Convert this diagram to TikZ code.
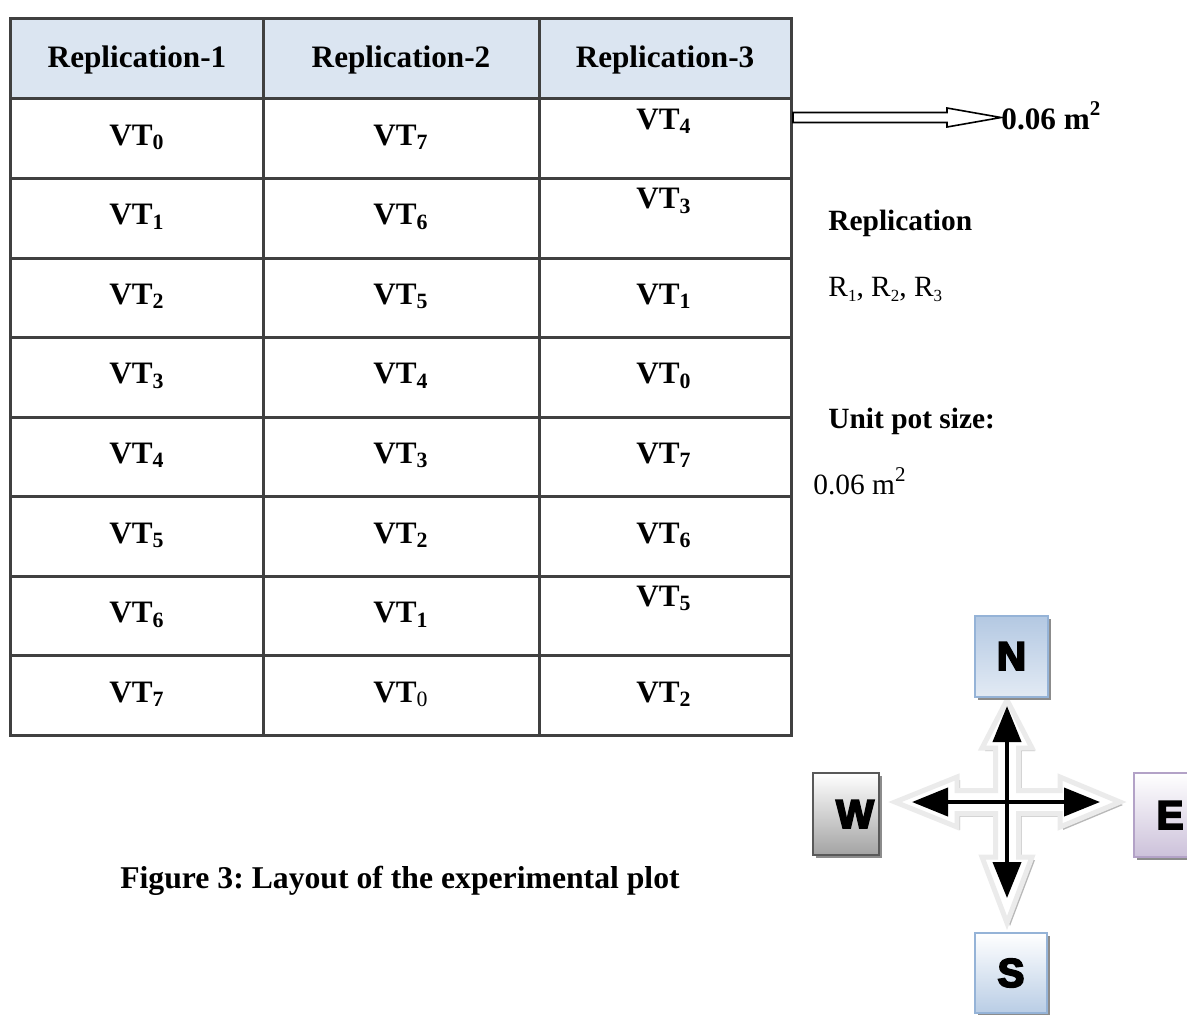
\documentclass[tikz,border=0pt]{standalone}
\usepackage{fontspec}
\setmainfont{Liberation Serif}
\newfontfamily\compassfont{Liberation Sans}[BoldFeatures={FakeBold=5}]
\usetikzlibrary{arrows.meta,shadows}
\frenchspacing

\definecolor{gridcol}{HTML}{404040}
\definecolor{headfill}{HTML}{DBE5F1}
\definecolor{nTop}{HTML}{B3C8E2}
\definecolor{nBot}{HTML}{E2EAF4}
\definecolor{blueEdge}{HTML}{95B3D7}
\definecolor{sBot}{HTML}{B9CDE5}
\definecolor{wBot}{HTML}{A3A3A3}
\definecolor{wEdge}{HTML}{595959}
\definecolor{eBot}{HTML}{CCC1DA}
\definecolor{eEdge}{HTML}{B3A2C7}

\newcommand\vtsub[1]{\textsubscript{#1}}
\newcommand\smallsub[1]{\raisebox{-0.2em}{\fontsize{8.5}{9}\selectfont #1}}
\newcommand\smallsup[1]{\raisebox{0.42em}{\fontsize{10.5}{11}\selectfont #1}}

\begin{document}
\begin{tikzpicture}[x=0.5pt,y=-0.5pt,
  gridline/.style={draw=gridcol,line width=1.5pt},
  cell/.style={font=\fontsize{15.6}{18}\selectfont\bfseries,anchor=base,inner sep=0pt},
  sidetext/.style={font=\fontsize{14.7}{17}\selectfont,anchor=base west,inner sep=0pt},
  sidebold/.style={sidetext,font=\fontsize{14.7}{17}\selectfont\bfseries},
  compbox/.style={draw,line width=1pt,minimum width=36pt,minimum height=40pt,
    inner sep=0pt,font=\compassfont\bfseries\fontsize{20}{22}\selectfont,
    drop shadow={shadow xshift=1.6pt,shadow yshift=-1.6pt,fill=black!45,opacity=1}},
  compass/.style={line width=2pt,{Triangle[length=18pt,width=14pt]}-{Triangle[length=18pt,width=14pt]}}
]
\useasboundingbox (0,0) rectangle (1187,1014);
\clip (0,0) rectangle (1187,1014);

% ---- table ----
\fill[headfill] (10,18) rectangle (791,98);
\draw[gridline] (10,18) rectangle (791,735);
\foreach \xx in {263,539} \draw[gridline] (\xx,18) -- (\xx,735);
\foreach \yy in {98,178,258,337,417,496,576,655} \draw[gridline] (10,\yy) -- (791,\yy);

\node[cell] (h1) at (137,67) {Replication-1};
\node[cell] (h2) at (401,67) {Replication-2};
\node[cell] (h3) at (665,67) {Replication-3};

% replication 1
\foreach \r/\v in {1/0,2/1,3/2,4/3,5/4,6/5,7/6,8/7}
  \node[cell] (a\r) at (137,{98+(\r-1)*79.6+47}) {VT\vtsub{\v}};
% replication 2
\foreach \r/\v in {1/7,2/6,3/5,4/4,5/3,6/2,7/1}
  \node[cell] (b\r) at (401,{98+(\r-1)*79.6+47}) {VT\vtsub{\v}};
\node[cell] (b8) at (401,{98+7*79.6+47}) {VT\vtsub{\mdseries 0}};
% replication 3 (some entries sit at the top of their cells)
\foreach \r/\v/\dy in {1/4/31,2/3/31,3/1/47,4/0/47,5/7/47,6/6/47,7/5/31,8/2/47}
  \node[cell] (c\r) at (664,{98+(\r-1)*79.6+\dy}) {VT\vtsub{\v}};

% ---- pot size pointer ----
\draw[line width=0.8pt,fill=white] (793,112.5) -- (947,112.5) -- (947,108) -- (1001,117.5)
  -- (947,127) -- (947,122.5) -- (793,122.5) -- cycle;
\node[cell,anchor=base west] (potsize) at (1001,129) {0.06 m\smallsup{2}};

% ---- legend ----
\node[sidebold] (replab) at (828,230) {Replication};
\node[sidetext] (reps) at (828,296) {R\smallsub{1}, R\smallsub{2}, R\smallsub{3}};
\node[sidebold] (unitlab) at (828,428) {Unit pot size:};
\node[sidetext] (unitval) at (813,494) {0.06 m\smallsup{2}};

% ---- caption ----
\node[cell,font=\fontsize{15.85}{18}\selectfont\bfseries] (caption) at (400,888) {Figure 3: Layout of the experimental plot};

% ---- compass: block cross behind ----
\def\crosspath{(1007,700) -- (1032,748) -- (1018.5,748) -- (1018.5,790.5) -- (1060,790.5)
  -- (1060,777) -- (1120,802) -- (1060,827) -- (1060,813.5) -- (1018.5,813.5) -- (1018.5,857)
  -- (1032,857) -- (1007,923) -- (982,857) -- (995.5,857) -- (995.5,813.5) -- (957,813.5)
  -- (957,827) -- (895,802) -- (957,777) -- (957,790.5) -- (995.5,790.5) -- (995.5,748)
  -- (982,748) -- cycle}
\begin{scope}[shift={(3,3)}]
  \fill[black!28] \crosspath;
\end{scope}
\filldraw[fill=white,draw=black!8,line width=2.5pt,line join=miter] \crosspath;

% ---- compass: direction boxes ----
\node[compbox,draw=blueEdge,top color=nTop,bottom color=nBot,minimum width=36.5pt,minimum height=40.5pt] (N) at (1011.5,656) {N};
\node[compbox,draw=wEdge,top color=white,bottom color=wBot,minimum width=33pt,minimum height=41pt] (W) at (846,814) {\hspace*{9pt}W};
\node[compbox,draw=eEdge,top color=white,bottom color=eBot,minimum width=36pt,minimum height=42pt] (E) at (1170,815) {E};
\node[compbox,draw=blueEdge,top color=white,bottom color=sBot,minimum width=36pt,minimum height=40pt] (S) at (1011,973) {S};

% ---- compass: black arrows ----
\coordinate (ntip) at (1007,706);
\coordinate (stip) at (1007,898);
\coordinate (wtip) at (912,802);
\coordinate (etip) at (1100,802);
\draw[compass] (stip) -- (ntip);
\draw[compass] (wtip) -- (etip);
\end{tikzpicture}
\end{document}
